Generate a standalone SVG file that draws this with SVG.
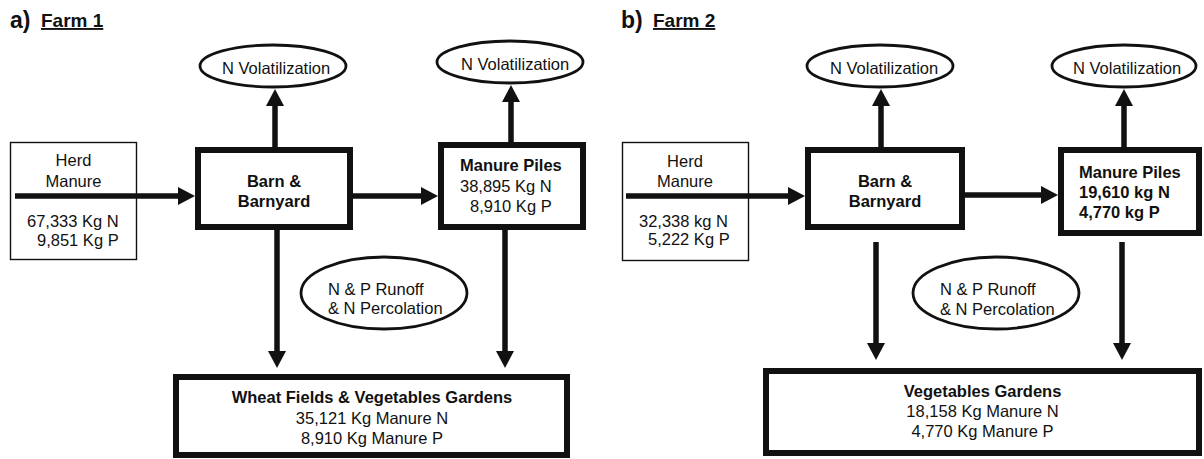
<svg xmlns="http://www.w3.org/2000/svg" width="1204" height="459" viewBox="0 0 1204 459">
<defs>
<style>
text{font-family:"Liberation Sans",Arial,Helvetica,sans-serif;font-size:16.5px;fill:#111}
.b{font-weight:bold}
.m{text-anchor:middle}
.title{font-weight:bold;font-size:23px}
.ft{font-weight:bold;font-size:19px;text-decoration:underline}
.thin{fill:#fff;stroke:#111;stroke-width:1.4}
.thick{fill:#fff;stroke:#111;stroke-width:6}
.ell{fill:#fff;stroke:#111;stroke-width:2.8}
.arr{fill:none;stroke:#111;stroke-width:5.5;marker-end:url(#ah)}
</style>
<marker id="ah" viewBox="0 0 17 18" refX="7" refY="9" markerWidth="17" markerHeight="18" markerUnits="userSpaceOnUse" orient="auto">
<path d="M0,0 L17,9 L0,18 z" fill="#111"/>
</marker>
</defs>
<rect width="1204" height="459" fill="#fff"/>

<g id="title-a"><text class="title" x="10" y="28">a)</text><text class="ft" x="41" y="27">Farm 1</text></g>
<g id="title-b"><text class="title" x="621" y="28">b)</text><text class="ft" x="653" y="27">Farm 2</text></g>

<!-- Panel a nodes -->
<g id="a-herd"><rect class="thin" x="10.5" y="142.5" width="126" height="117"/>
<text class="m" x="73.5" y="166">Herd</text><text class="m" x="73.5" y="187">Manure</text>
<text x="27" y="227">67,333 Kg N</text><text x="37" y="246">9,851 Kg P</text></g>
<g id="a-barn"><rect class="thick" x="198" y="150" width="152" height="77"/>
<text class="b m" x="274" y="187">Barn &amp;</text><text class="b m" x="274" y="207">Barnyard</text></g>
<g id="a-piles"><rect class="thick" x="441" y="145" width="142" height="82"/>
<text class="b" x="460" y="171">Manure Piles</text><text x="460" y="192">38,895 Kg N</text><text x="470" y="212">8,910 Kg P</text></g>
<g id="a-vol1"><ellipse class="ell" cx="273" cy="66" rx="73" ry="21"/><text x="222" y="74">N Volatilization</text></g>
<g id="a-vol2"><ellipse class="ell" cx="510" cy="62" rx="73" ry="21"/><text x="461" y="70">N Volatilization</text></g>
<g id="a-runoff"><ellipse class="ell" cx="384" cy="293" rx="83" ry="36"/><text x="328" y="295">N &amp; P Runoff</text><text x="328" y="314">&amp; N Percolation</text></g>
<g id="a-fields"><rect class="thick" x="176" y="377" width="391" height="78"/>
<text class="b m" x="372" y="403">Wheat Fields &amp; Vegetables Gardens</text><text class="m" x="372" y="424">35,121 Kg Manure N</text><text class="m" x="372" y="444">8,910 Kg Manure P</text></g>

<!-- Panel b nodes -->
<g id="b-herd"><rect class="thin" x="622.5" y="142.5" width="126" height="118"/>
<text class="m" x="685" y="167">Herd</text><text class="m" x="685" y="187">Manure</text>
<text x="639" y="227">32,338 kg N</text><text x="648" y="245">5,222 Kg P</text></g>
<g id="b-barn"><rect class="thick" x="808" y="150" width="154" height="77"/>
<text class="b m" x="885" y="187">Barn &amp;</text><text class="b m" x="885" y="207">Barnyard</text></g>
<g id="b-piles"><rect class="thick" x="1061" y="150" width="138" height="83"/>
<text class="b" x="1079" y="178">Manure Piles</text><text class="b" x="1079" y="198">19,610 kg N</text><text class="b" x="1079" y="218">4,770 kg P</text></g>
<g id="b-vol1"><ellipse class="ell" cx="880" cy="66" rx="73" ry="21"/><text x="830" y="74">N Volatilization</text></g>
<g id="b-vol2"><ellipse class="ell" cx="1124" cy="66" rx="72" ry="21"/><text x="1073" y="74">N Volatilization</text></g>
<g id="b-runoff"><ellipse class="ell" cx="996" cy="293" rx="83" ry="36"/><text x="940" y="295">N &amp; P Runoff</text><text x="940" y="315">&amp; N Percolation</text></g>
<g id="b-gardens"><rect class="thick" x="766" y="371" width="433" height="82"/>
<text class="b m" x="982.5" y="397">Vegetables Gardens</text><text class="m" x="982.5" y="417">18,158 Kg Manure N</text><text class="m" x="982.5" y="437">4,770 Kg Manure P</text></g>

<g id="connectors">
<path class="arr" d="M15,196 H185"/>
<path class="arr" d="M353,196 H428"/>
<path class="arr" d="M275,147 V99"/>
<path class="arr" d="M511,142 V95"/>
<path class="arr" d="M277,230 V358"/>
<path class="arr" d="M505,230 V358"/>
<path class="arr" d="M626,196 H795"/>
<path class="arr" d="M965,195 H1048"/>
<path class="arr" d="M881,147 V99"/>
<path class="arr" d="M1124,147 V99"/>
<path class="arr" d="M876,242 V350"/>
<path class="arr" d="M1122,242 V350"/>
</g>
</svg>
